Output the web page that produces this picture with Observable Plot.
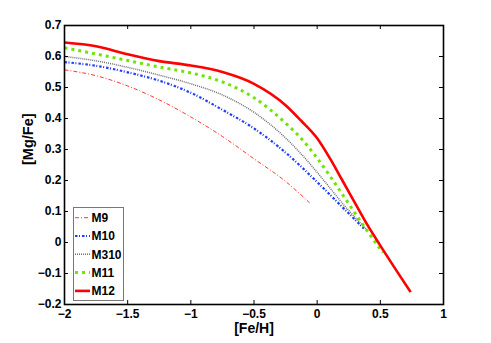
<!DOCTYPE html>
<html><head><meta charset="utf-8">
<script src="https://cdn.jsdelivr.net/npm/d3@7"></script>
<script src="https://cdn.jsdelivr.net/npm/@observablehq/plot@0.6"></script>
<style>
html,body{margin:0;padding:0;background:#fff;}
#wrap{position:relative;width:491px;height:343px;font-family:"Liberation Sans",Arial,sans-serif;}
#legend{position:absolute;left:73px;top:207px;}
</style></head><body><div id="wrap"></div>
<script>
// ---- data ----
const xTicks = [-2, -1.5, -1, -0.5, 0, 0.5, 1];
const yTicks = [-0.2, -0.1, 0, 0.1, 0.2, 0.3, 0.4, 0.5, 0.6, 0.7];
const seriesNames = ["M9", "M10", "M310", "M11", "M12"];

const m9X = [-2, -1.75, -1.5, -1.25, -1, -0.75, -0.5, -0.25, -0.06];
const m9Y = [0.557, 0.538, 0.505, 0.46, 0.405, 0.342, 0.27, 0.197, 0.128];

const m10X = [-2, -1.75, -1.5, -1.25, -1, -0.75, -0.5, -0.25, 0, 0.2, 0.37];
const m10Y = [0.582, 0.57, 0.549, 0.522, 0.483, 0.428, 0.368, 0.29, 0.195, 0.114, 0.045];

const m310X = [-2, -1.75, -1.5, -1.25, -1, -0.75, -0.5, -0.25, -0.125, 0, 0.25, 0.4];
const m310Y = [0.60, 0.586, 0.565, 0.54, 0.512, 0.476, 0.42, 0.337, 0.285, 0.226, 0.103, 0.038];

const m11X = [-2, -1.75, -1.5, -1.25, -1, -0.75, -0.5, -0.25, -0.125, 0, 0.1, 0.25, 0.4, 0.52];
const m11Y = [0.628, 0.608, 0.587, 0.566, 0.547, 0.518, 0.467, 0.385, 0.335, 0.272, 0.215, 0.125, 0.035, -0.033];

const m12X = [-2, -1.75, -1.5, -1.25, -1, -0.75, -0.5, -0.25, -0.125, 0, 0.1, 0.2, 0.3, 0.4, 0.5, 0.74];
const m12Y = [0.645, 0.633, 0.607, 0.585, 0.571, 0.55, 0.512, 0.443, 0.392, 0.336, 0.272, 0.2, 0.127, 0.055, -0.01, -0.16];

const seriesX = [m9X, m10X, m310X, m11X, m12X];
const seriesY = [m9Y, m10Y, m310Y, m11Y, m12Y];

// ---- styles ----
const styles = {
  M9:   {stroke: "#ff0000", strokeWidth: 0.8, strokeDasharray: "4,2,1,2"},
  M10:  {stroke: "#1f3cff", strokeWidth: 2.2, strokeDasharray: "2.5,1.5,1,2"},
  M310: {stroke: "#707070", strokeWidth: 1.5, strokeDasharray: "1,1"},
  M11:  {stroke: "#6fe600", strokeWidth: 3, strokeDasharray: "3,4"},
  M12:  {stroke: "#ff0000", strokeWidth: 2.6, strokeDasharray: null}
};

const rows = seriesNames.flatMap((name, i) =>
  seriesX[i].map((x, j) => ({series: name, x, y: seriesY[i][j]})));

const W = 491, H = 343, mL = 64, mR = 48, mT = 25, mB = 39;
const iw = W - mL - mR, ih = H - mT - mB;
const fmt = d => d < 0 ? "\u2212" + (-d) : String(d);
const font = "'Liberation Sans', Arial, sans-serif";

const lineMarks = seriesNames.map(name =>
  Plot.line(rows.filter(r => r.series === name), {
    x: "x", y: "y", curve: "monotone-x",
    stroke: styles[name].stroke, strokeWidth: styles[name].strokeWidth,
    strokeDasharray: styles[name].strokeDasharray, strokeLinecap: "butt"
  }));

const chart = Plot.plot({
  width: W, height: H,
  marginLeft: mL, marginRight: mR, marginTop: mT, marginBottom: mB,
  style: {fontFamily: font, fontSize: "12px", fontWeight: "bold", color: "black", background: "white", overflow: "visible"},
  x: {domain: [-2, 1]},
  y: {domain: [-0.2, 0.7]},
  marks: [
    ...lineMarks,
    Plot.tickX(xTicks, {x: d => d, insetTop: ih - 4, stroke: "black", strokeWidth: 1}),
    Plot.tickX(xTicks, {x: d => d, insetBottom: ih - 4, stroke: "black", strokeWidth: 1}),
    Plot.tickY(yTicks, {y: d => d, insetRight: iw - 4, stroke: "black", strokeWidth: 1}),
    Plot.tickY(yTicks, {y: d => d, insetLeft: iw - 4, stroke: "black", strokeWidth: 1}),
    Plot.axisX({ticks: xTicks, tickSize: 0, tickPadding: 5, tickFormat: fmt, label: null}),
    Plot.axisY({ticks: yTicks, tickSize: 0, tickPadding: 3, tickFormat: fmt, label: null}),
    Plot.text(["[Fe/H]"], {text: d => d, frameAnchor: "bottom", dy: 24.5, lineAnchor: "middle", fontSize: 14, fontWeight: "bold"}),
    Plot.text(["[Mg/Fe]"], {text: d => d, frameAnchor: "left", dx: -36, rotate: -90, lineAnchor: "middle", fontSize: 14.5, fontWeight: "bold"}),
    Plot.frame({stroke: "black", strokeWidth: 1.6})
  ]
});
const wrap = document.getElementById("wrap");
wrap.appendChild(chart);

// ---- legend overlay ----
const lg = d3.select(wrap).append("svg").attr("id", "legend")
  .attr("width", 52).attr("height", 95);
lg.append("rect").attr("x", 0.5).attr("y", 0.5).attr("width", 50).attr("height", 93)
  .attr("fill", "white").attr("stroke", "#777").attr("stroke-width", 1);
seriesNames.forEach((name, i) => {
  const cy = 10.7 + i * 18.3;
  const s = styles[name];
  lg.append("line").attr("x1", 2).attr("x2", 17).attr("y1", cy).attr("y2", cy)
    .attr("stroke", s.stroke).attr("stroke-width", s.strokeWidth)
    .attr("stroke-dasharray", s.strokeDasharray);
  lg.append("text").attr("x", 18.5).attr("y", cy).attr("dy", "0.35em")
    .attr("font-family", font).attr("font-weight", "bold").attr("font-size", 12)
    .text(name);
});
</script></body></html>
